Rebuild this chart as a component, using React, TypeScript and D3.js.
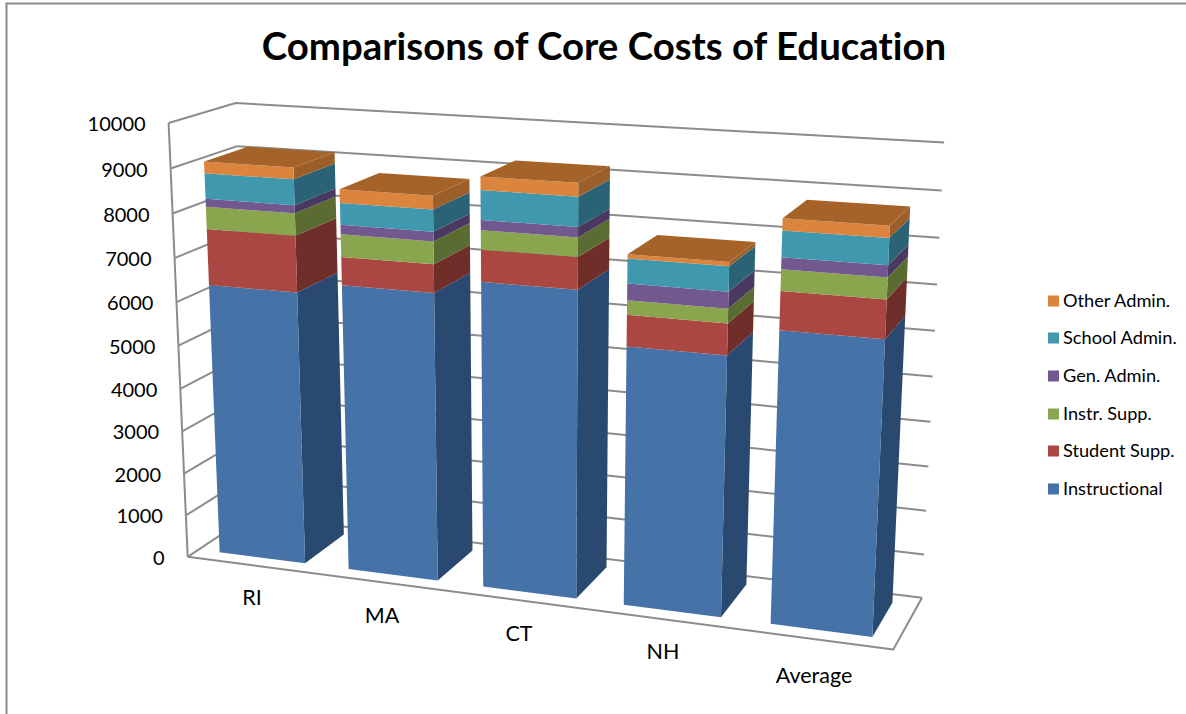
import React from "react";
import * as d3 from "d3";

const categories = ["RI", "MA", "CT", "NH", "Average"];
const seriesNames = ["Instructional", "Student Supp.", "Instr. Supp.", "Gen. Admin.", "School Admin.", "Other Admin."];
const instructional = [6320, 6570, 6900, 5770, 6400];
const studentSupp = [1270, 630, 700, 680, 820];
const instrSupp = [500, 500, 420, 310, 450];
const genAdmin = [180, 210, 220, 360, 250];
const schoolAdmin = [570, 480, 640, 530, 550];
const otherAdmin = [260, 300, 290, 90, 250];
const seriesValues = [instructional, studentSupp, instrSupp, genAdmin, schoolAdmin, otherAdmin];
const frontColors = ["#4572a7", "#aa4643", "#89a54e", "#71588f", "#4198af", "#db843d"];
const sideColors = ["#2c4a6f", "#6f2d2a", "#5a6c33", "#4a395e", "#2a6374", "#9c5f2a"];
const topColor = "#a5642b";
const yTicks = [0, 1000, 2000, 3000, 4000, 5000, 6000, 7000, 8000, 9000, 10000];
const labelPos: [number, number][] = [[252, 598], [382, 616], [519, 634], [663, 652], [814, 676]];
const legendY = [489, 451, 414, 376, 338, 301];

const wScale = d3.scaleLinear().domain([0, 10000]).range([0, 1]);
const uScale = d3.scaleBand<string>().domain(categories).range([0, 1]).paddingInner(0.333).paddingOuter(0.167);
const vScale = d3.scaleBand<string>().domain(["depth"]).range([0, 1]).padding(0.2);
const v0 = vScale("depth")!;
const v1 = v0 + vScale.bandwidth();

// calibration of the 3D box: [u, v, w, px, py]
const wallCalib: number[][] = [
  [0, 0, 0, 187, 557], [1, 0, 0, 893, 652], [1, 1, 0, 923, 597], [0, 1, 0, 247, 517],
  [0, 0, 1, 167, 124], [0, 1, 1, 238, 103], [1, 1, 1, 945, 142], [1, 0, 1, 915, 168],
  [1, 1, 0.5, 931, 376], [0, 0, 0.5, 177, 345],
];
const footFrontLeft: [number, number][] = [[222, 552], [349, 569], [484, 587], [625, 605], [772, 623]];
const footFrontRight: [number, number][] = [[306, 563], [437, 579], [576, 597], [720, 617], [872, 637]];
const footBackRight: [number, number][] = [[346, 533], [473, 551], [605, 568], [746, 585], [892, 603]];
const calib: number[][] = [...wallCalib];
categories.forEach((c, i) => {
  const u0 = uScale(c)!;
  const u1 = u0 + uScale.bandwidth();
  calib.push([u0, v0, 0, ...footFrontLeft[i]]);
  calib.push([u1, v0, 0, ...footFrontRight[i]]);
  calib.push([u1, v1, 0, ...footBackRight[i]]);
});

function solveProjection(pts: number[][]): number[] {
  const rows: number[][] = [];
  const rhs: number[] = [];
  pts.forEach(([u, v, w, x, y]) => {
    rows.push([u, v, w, 1, 0, 0, 0, 0, -x * u, -x * v, -x * w]); rhs.push(x);
    rows.push([0, 0, 0, 0, u, v, w, 1, -y * u, -y * v, -y * w]); rhs.push(y);
  });
  const n = 11;
  const A = d3.range(n).map((i) => d3.range(n + 1).map((j) =>
    j < n ? d3.sum(rows, (r) => r[i] * r[j]) : d3.sum(rows, (r, k) => r[i] * rhs[k])));
  for (let c = 0; c < n; c++) {
    let p = c;
    for (let r = c + 1; r < n; r++) if (Math.abs(A[r][c]) > Math.abs(A[p][c])) p = r;
    [A[c], A[p]] = [A[p], A[c]];
    for (let r = 0; r < n; r++) {
      if (r === c) continue;
      const f = A[r][c] / A[c][c];
      for (let j = c; j <= n; j++) A[r][j] -= f * A[c][j];
    }
  }
  return A.map((r, i) => r[n] / r[i]);
}
const m = solveProjection(calib);
const project = (u: number, v: number, w: number): [number, number] => {
  const d = m[8] * u + m[9] * v + m[10] * w + 1;
  return [(m[0] * u + m[1] * v + m[2] * w + m[3]) / d, (m[4] * u + m[5] * v + m[6] * w + m[7]) / d];
};

const poly = d3.line();
const font = "Lato, 'Open Sans', sans-serif";
const gridColor = "#8c8c8c";

const stackRows = categories.map((c, i) => {
  const row: Record<string, number | string> = { c };
  seriesNames.forEach((s, k) => { row[s] = seriesValues[k][i]; });
  return row;
});
const stacked = d3.stack<any>().keys(seriesNames)(stackRows);

export default function App() {
  return (
    <svg width={1186} height={714} style={{ position: "absolute", left: 0, top: 0, background: "#fff", fontVariantLigatures: "none" }}>
      <defs>
        <filter id="soft" x="-5%" y="-5%" width="110%" height="110%">
          <feGaussianBlur stdDeviation={0.45} />
        </filter>
      </defs>
      <path d="M6.5,714V3.5H1186" fill="none" stroke="#8a8a8a" strokeWidth={2} />
      <text x={604} y={60} textAnchor="middle" fontFamily={font} fontWeight={700} fontSize={38.4} fill="#000">
        Comparisons of Core Costs of Education
      </text>
      <g filter="url(#soft)">
        <g fill="none" stroke={gridColor} strokeWidth={2} strokeLinejoin="round">
          {yTicks.map((t) => {
            const w = wScale(t);
            return <path key={t} d={poly([project(0, 0, w), project(0, 1, w), project(1, 1, w)])!} />;
          })}
          <path d={poly([project(0, 0, 1), project(0, 0, 0)])!} />
          <path d={poly([project(0, 0, 0), project(1, 0, 0), project(1, 1, 0)])!} />
        </g>
        {categories.map((c, i) => {
          const u0 = uScale(c)!;
          const u1 = u0 + uScale.bandwidth();
          return (
            <g key={c}>
              {stacked.map((layer, k) => {
                const a = wScale(layer[i][0]);
                const b = wScale(layer[i][1]);
                return (
                  <g key={k}>
                    <path d={poly([project(u1, v0, a), project(u1, v1, a), project(u1, v1, b), project(u1, v0, b)])! + "Z"} fill={sideColors[k]} />
                    <path d={poly([project(u0, v0, a), project(u1, v0, a), project(u1, v0, b), project(u0, v0, b)])! + "Z"} fill={frontColors[k]} />
                    {k === stacked.length - 1 && (
                      <path d={poly([project(u0, v0, b), project(u1, v0, b), project(u1, v1, b), project(u0, v1, b)])! + "Z"} fill={topColor} />
                    )}
                  </g>
                );
              })}
            </g>
          );
        })}
      </g>
      {yTicks.map((t) => {
        const [x, y] = project(0, 0, wScale(t));
        return (
          <text key={t} x={x - 23} y={y + 8} textAnchor="end" fontFamily={font} fontSize={20} fill="#000">{t}</text>
        );
      })}
      {categories.map((c, i) => (
        <text key={c} x={labelPos[i][0]} y={labelPos[i][1] + 7} textAnchor="middle" fontFamily={font} fontSize={21.5} fill="#000">{c}</text>
      ))}
      {seriesNames.map((s, k) => (
        <g key={s}>
          <rect x={1048} y={legendY[k] - 5.5} width={11} height={11} fill={frontColors[k]} />
          <text x={1063} y={legendY[k] + 6} fontFamily={font} fontSize={18.2} fill="#000">{s}</text>
        </g>
      ))}
    </svg>
  );
}
